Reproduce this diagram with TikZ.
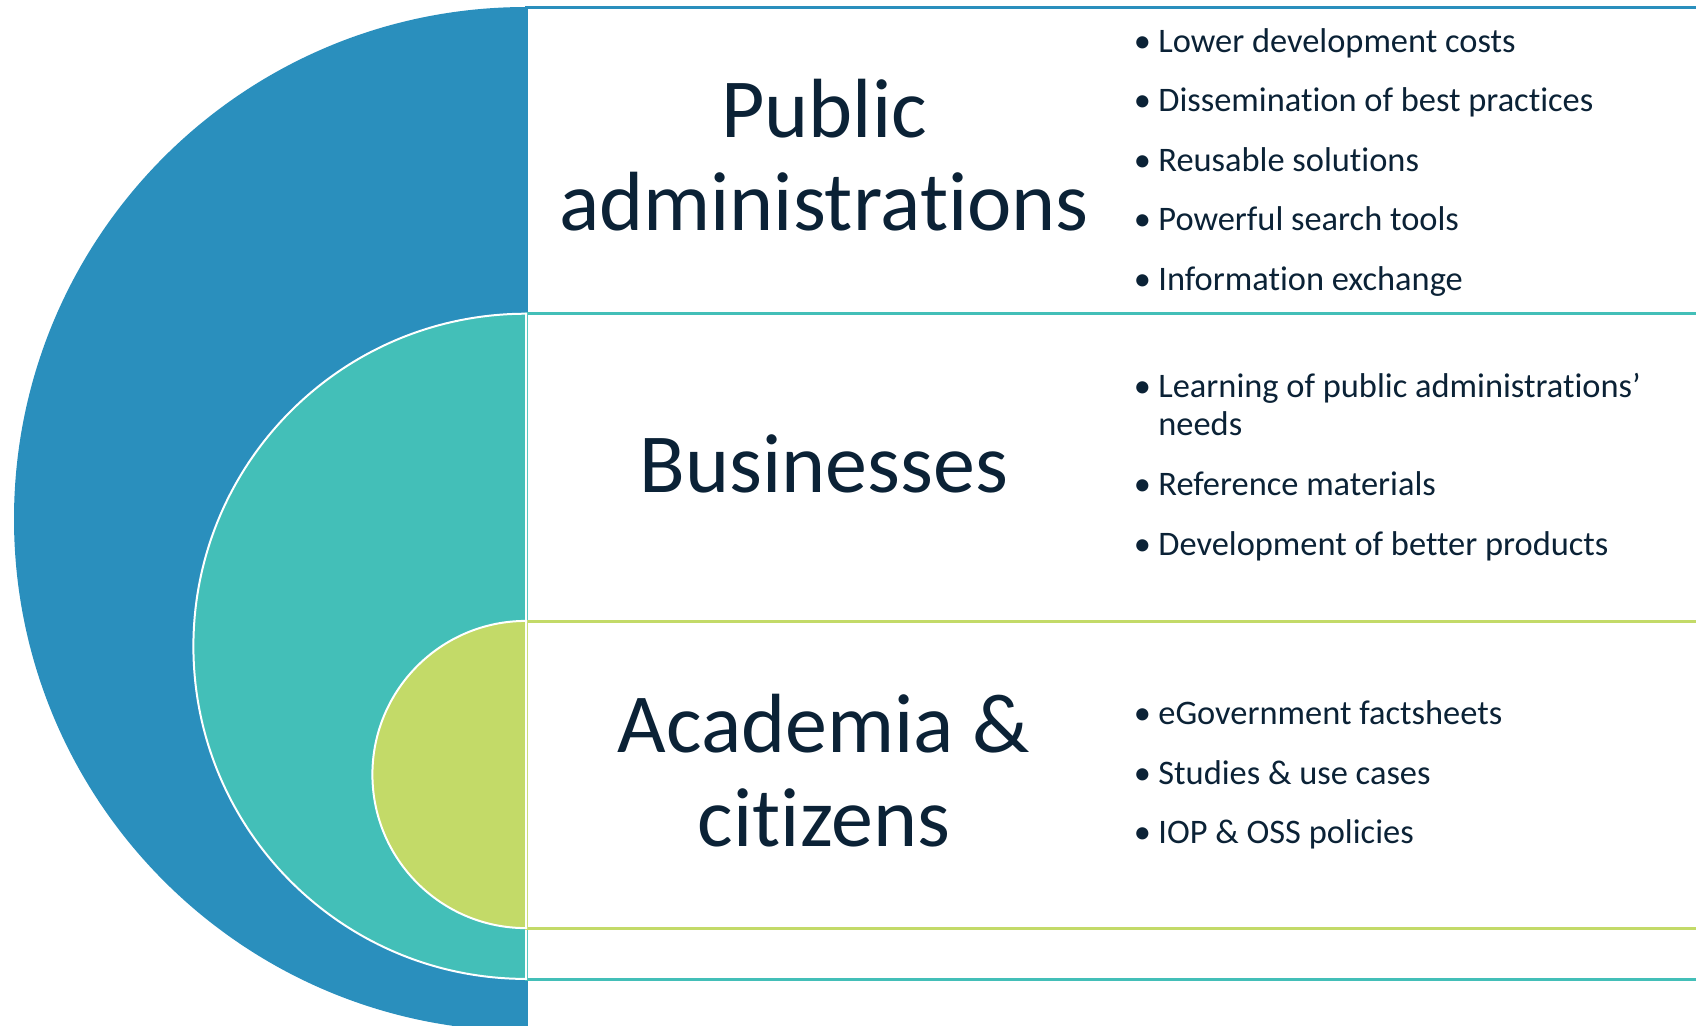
\documentclass[tikz,border=0pt]{standalone}
\usepackage{fontspec}
\setmainfont{Carlito}[Ligatures={TeX,NoCommon}]
\usetikzlibrary{positioning}
\definecolor{pablue}{HTML}{2A8FBD}
\definecolor{buteal}{HTML}{43BFB8}
\definecolor{acgreen}{HTML}{C3DA68}
\definecolor{ink}{HTML}{0B2236}
\newcommand{\bul}{\llap{\textbullet\hspace{3.7pt}}}

\begin{document}
\begin{tikzpicture}[x=0.5pt,y=-0.5pt]
            \tikzset{band/.style={fill=white,line width=1.5pt}};
            \tikzset{disc/.style={draw=white,line width=1pt}};
            \tikzset{title/.style={anchor=base,inner sep=0pt,text=ink,font=\fontsize{42pt}{46pt}\selectfont}};
            \tikzset{point/.style={anchor=base west,inner sep=0pt,text=ink,font=\fontsize{17.2pt}{19pt}\selectfont}};
            
            \useasboundingbox (0,0) rectangle (1696,1025);
            \clip (0,0) rectangle (1696,1025);
            
            \coordinate (pa) at (526,519);
            \coordinate (bu) at (526,646.3);
            \coordinate (ac) at (526,774.5);
            
            \draw[band,draw=pablue] (526,7) rectangle (1710,1040);
            \fill[pablue] (pa) ++(90:256pt) arc[start angle=90,end angle=270,radius=256pt] -- cycle;
            
            \draw[band,draw=buteal] (526,313.7) rectangle (1710,979);
            \filldraw[disc,fill=buteal] (bu) ++(90:166.3pt) arc[start angle=90,end angle=270,radius=166.3pt] -- cycle;
            
            \draw[band,draw=acgreen] (526,621) rectangle (1710,928);
            \filldraw[disc,fill=acgreen] (ac) ++(90:76.8pt) arc[start angle=90,end angle=270,radius=76.8pt] -- cycle;
            
            \node[title] (pa1) at (824,137) {Public};
            \node[title] (pa2) at (824,230) {administrations};
            \node[title] (bu1) at (824,492) {Businesses};
            \node[title] (ac1) at (824,752) {Academia \&};
            \node[title] (ac2) at (824,846) {citizens};
            
            \node[point] (pa-a) at (1158,52) {\bul Lower development costs};
            \node[point] (pa-b) at (1158,111.5) {\bul Dissemination of best practices};
            \node[point] (pa-c) at (1158,171) {\bul Reusable solutions};
            \node[point] (pa-d) at (1158,230.5) {\bul Powerful search tools};
            \node[point] (pa-e) at (1158,290) {\bul Information exchange};
            
            \node[point] (bu-a) at (1158,397) {\bul Learning of public administrations'};
            \node[point] (bu-b) at (1158,435) {needs};
            \node[point] (bu-c) at (1158,495) {\bul Reference materials};
            \node[point] (bu-d) at (1158,555) {\bul Development of better products};
            
            \node[point] (ac-a) at (1158,724) {\bul eGovernment factsheets};
            \node[point] (ac-b) at (1158,784) {\bul Studies \& use cases};
            \node[point] (ac-c) at (1158,843) {\bul IOP \& OSS policies};
\end{tikzpicture}
\end{document}
